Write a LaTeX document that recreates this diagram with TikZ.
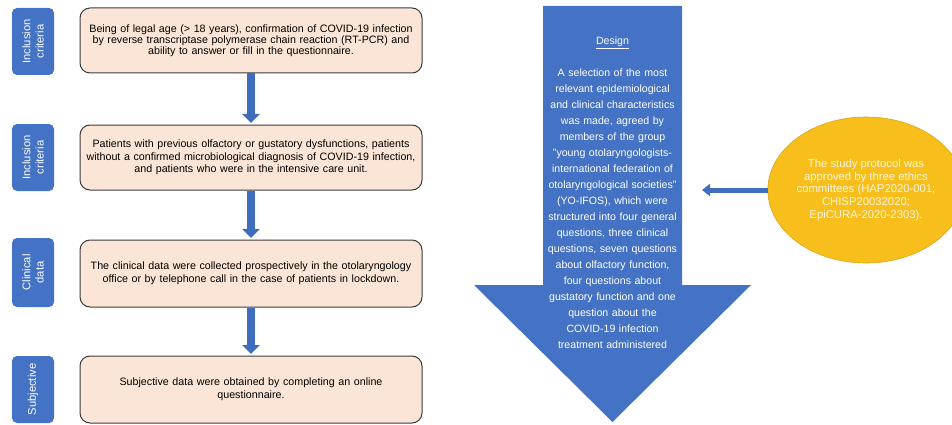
\documentclass[tikz,border=0pt]{standalone}
\usepackage{fontspec}
\setmainfont{Liberation Sans}
\usetikzlibrary{arrows.meta,shapes.geometric}
\definecolor{tabblue}{HTML}{4472C4}
\definecolor{arrowblue}{HTML}{3F6DBE}
\definecolor{peach}{HTML}{FBE5D6}
\definecolor{boxedge}{HTML}{3B3B3B}
\definecolor{gold}{HTML}{F8BF1C}
\definecolor{goldedge}{HTML}{D9A514}
\definecolor{ltxt}{HTML}{FFF6DC}
\begin{document}
\begin{tikzpicture}[x=1pt,y=-1pt,
  tabbox/.style={fill=tabblue, rounded corners=5pt, rotate=90, minimum height=42pt,
    inner sep=0pt, text=white, align=center, font=\fontsize{11.2}{13.3}\selectfont},
  stagebox/.style={draw=boxedge, line width=1pt, fill=peach, rounded corners=10pt,
    minimum width=342pt, text width=338pt, inner sep=2pt,
    font=\fontsize{10.7}{12.6}\selectfont, align=center},
  tightbox/.style={stagebox, font=\fontsize{10.7}{10.8}\selectfont, align=center},
  varrow/.style={draw=arrowblue, line width=7.5pt, shorten >=1.5pt,
    -{Triangle[width=17pt,length=9pt]}},
  harrow/.style={draw=arrowblue, line width=5pt, -{Triangle[width=12pt,length=8pt]}},
  designtext/.style={text width=139pt, inner sep=0pt, align=center, text=white,
    font=\fontsize{10.6}{16}\selectfont},
  ethicsbox/.style={ellipse, fill=gold, draw=goldedge, line width=0.6pt,
    minimum width=168pt, minimum height=146pt, inner sep=0pt, align=center,
    text=ltxt, font=\fontsize{11.3}{12.7}\selectfont}
]
\useasboundingbox (0,0) rectangle (952,425);

% left tabs
\node[tabbox, minimum width=67pt] (t1) at (33,41.5) {Inclusion\\criteria};
\node[tabbox, minimum width=67pt] (t2) at (33,157.5) {Inclusion\\criteria};
\node[tabbox, minimum width=69pt] (t3) at (33,272.5) {Clinical\\data};
\node[tabbox, minimum width=67pt] (t4) at (33,389.5) {Subjective};

% stage boxes
\node[tightbox, minimum height=65pt] (b1) at (251,40.5)
  {Being of legal age (> 18 years), confirmation of COVID-19 infection\\
   by reverse transcriptase polymerase chain reaction (RT-PCR) and\\
   ability to answer or fill in the questionnaire.};
\node[stagebox, minimum height=65pt] (b2) at (251,157.5)
  {Patients with previous olfactory or gustatory dysfunctions, patients\\
   without a confirmed microbiological diagnosis of COVID-19 infection,\\
   and patients who were in the intensive care unit.};
\node[stagebox, minimum height=67pt] (b3) at (251,273.5)
  {The clinical data were collected prospectively in the otolaryngology\\
   office or by telephone call in the case of patients in lockdown.};
\node[stagebox, minimum height=67pt] (b4) at (251,389.5)
  {Subjective data were obtained by completing an online\\
   questionnaire.};

\draw[varrow] (b1.south) -- (b2.north);
\draw[varrow] (b2.south) -- (b3.north);
\draw[varrow] (b3.south) -- (b4.north);

% big design arrow
\fill[tabblue] (543,6) -- (682,6) -- (682,285) -- (751,285) -- (612.5,422)
  -- (474,285) -- (543,285) -- cycle;
\node[designtext] (design) at (612.5,193)
  {\underline{Design}\\[16pt]
   A selection of the most\\
   relevant epidemiological\\
   and clinical characteristics\\
   was made, agreed by\\
   members of the group\\
   "young otolaryngologists-\\
   international federation of\\
   otolaryngological societies"\\
   (YO-IFOS), which were\\
   structured into four general\\
   questions, three clinical\\
   questions, seven questions\\
   about olfactory function,\\
   four questions about\\
   gustatory function and one\\
   question about the\\
   COVID-19 infection\\
   treatment administered};

% ethics ellipse
\node[ethicsbox] (ethics) at (866,190)
  {The study protocol was\\
   approved by three ethics\\
   committees (HAP2020-001;\\
   CHISP20032020;\\
   EpiCURA-2020-2303).};
\coordinate (dtip) at (702,190);
\draw[harrow] (ethics.west) -- (dtip);
\end{tikzpicture}
\end{document}
